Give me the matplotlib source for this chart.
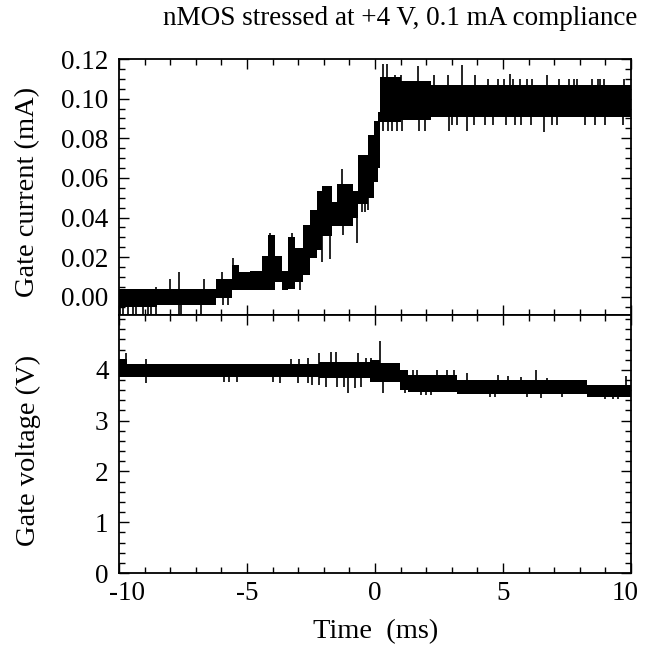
import numpy as np
import matplotlib
matplotlib.use("Agg")
import matplotlib.pyplot as plt
import matplotlib.transforms as mtransforms
from matplotlib.ticker import MultipleLocator, FixedLocator, FormatStrFormatter

# ---- Gate current trace (mA): stepwise envelope of the noisy record ----
cur_t = [-10.0, -8.5, -6.2, -5.6, -5.3, -4.9, -4.43, -4.17, -3.91, -3.65, -3.39,
         -3.13, -2.80, -2.54, -2.28, -2.08, -1.69, -1.50, -0.85, -0.65, -0.26,
         -0.05, 0.10, 0.20, 1.0, 2.2, 10.0]
cur_lo = [-0.0050, -0.0040, -0.0005, 0.0035, 0.0035, 0.0032, 0.0032, 0.0032, 0.0077,
          0.0032, 0.0040, 0.0077, 0.0110, 0.0197, 0.0238, 0.0305, 0.0356, 0.0356,
          0.0400, 0.0466, 0.0500, 0.0580, 0.0650, 0.0880, 0.0890, 0.0905, 0.0905]
cur_hi = [0.0040, 0.0040, 0.0090, 0.0160, 0.0123, 0.0128, 0.0204, 0.0310, 0.0204,
          0.0128, 0.0300, 0.0248, 0.0364, 0.0440, 0.0533, 0.0558, 0.0480, 0.0567,
          0.0533, 0.0718, 0.0815, 0.0887, 0.0930, 0.1110, 0.1090, 0.1070, 0.1070]

# isolated excursions of the current record: (time ms, value mA)
cur_spike_t = [-9.98, -9.85, -9.66, -9.45, -9.34, -9.08, -8.88, -8.75, -8.56, -7.65,
               -7.58, -6.80, -8.56, -7.99, -7.64, -6.66, -5.99, -5.56, -5.95, -5.75,
               -4.10, -3.25, -2.93, -2.08, -1.76, -1.30, -1.24, -0.72, -0.51, -0.38,
               -0.27,
               0.32, 0.46, 1.69, 3.39, 0.80, 1.00, 2.30, 2.85, 3.90, 5.28, 6.70,
               5.02, 5.41, 5.67, 5.93, 6.13, 7.17, 7.56, 7.76, 8.47, 8.73, 8.93,
               9.72, 7.90, 8.80, 4.40, 4.80,
               0.33, 0.50, 0.66, 0.86, 1.05, 1.70, 1.95, 2.90, 3.60, 6.62,
               3.00, 3.20, 3.85, 4.30, 4.60, 5.10, 5.45, 5.72, 6.10, 6.90, 7.10,
               8.20, 8.60, 9.00, 9.70]
cur_spike_v = [-0.0095, -0.0095, -0.0095, -0.0095, -0.0095, -0.0095, -0.0095, -0.0095,
               -0.0095, -0.0095, -0.0095, -0.0095, 0.0050, 0.0090, 0.0123, 0.0090,
               0.0123, 0.0197, -0.0040, -0.0040,
               0.0322, 0.0322, 0.0032, 0.0177, 0.0192, 0.0646, 0.0314, 0.0272, 0.0430,
               0.0430, 0.0440,
               0.1174, 0.1174, 0.1166, 0.1170, 0.1120, 0.1120, 0.1120, 0.1120, 0.1120,
               0.1123, 0.1120,
               0.1100, 0.1100, 0.1100, 0.1100, 0.1100, 0.1100, 0.1100, 0.1100, 0.1100,
               0.1100, 0.1100, 0.1100, 0.1100, 0.1100, 0.1100, 0.1100,
               0.0837, 0.0837, 0.0837, 0.0837, 0.0837, 0.0837, 0.0837, 0.0837, 0.0837,
               0.0830,
               0.0865, 0.0865, 0.0865, 0.0865, 0.0865, 0.0865, 0.0865, 0.0865, 0.0865,
               0.0865, 0.0865, 0.0865, 0.0865, 0.0865, 0.0865]

# ---- Gate voltage trace (V) ----
vol_t = [-10.0, -9.7, -2.2, -0.2, 0.2, 0.98, 1.3, 3.2, 8.3, 10.0]
vol_lo = [3.85, 3.86, 3.83, 3.77, 3.76, 3.60, 3.57, 3.52, 3.47, 3.47]
vol_hi = [4.22, 4.12, 4.16, 4.20, 4.14, 4.00, 3.90, 3.80, 3.70, 3.70]

vol_spike_t = [-9.73, -8.95, -3.27, -2.96, -2.62, -2.17, -1.71, -1.51, -0.67, -0.35,
               -0.16, 0.196, 1.50, 1.65, 2.43, 2.80, 3.10, 3.60, 4.80, 5.20, 5.70,
               6.30, 6.70, 9.80,
               -8.95, -5.90, -5.70, -5.40, -4.00, -3.70, -3.00, -2.60, -2.45, -2.20,
               -1.90, -1.50, -1.20, -1.05, -0.80, -0.55, 0.33, 1.18, 1.80, 2.00,
               2.20, 4.48, 4.70, 5.95, 6.47, 7.30, 8.60, 9.00, 9.30, 9.50]
vol_spike_v = [4.33, 4.21, 4.21, 4.21, 4.24, 4.33, 4.36, 4.36, 4.33, 4.24,
               4.24, 4.56, 4.00, 4.00, 4.00, 4.00, 4.00, 3.94, 3.90, 3.87, 3.85,
               4.00, 3.84, 3.87,
               3.74, 3.77, 3.77, 3.77, 3.77, 3.75, 3.74, 3.74, 3.70, 3.70,
               3.67, 3.67, 3.67, 3.55, 3.65, 3.67, 3.55, 3.54, 3.51, 3.51,
               3.51, 3.47, 3.47, 3.47, 3.44, 3.47, 3.47, 3.42, 3.42, 3.42]

time_ticks = [-10, -5, 0, 5, 10]
cur_ticks = [0.00, 0.02, 0.04, 0.06, 0.08, 0.10, 0.12]
vol_ticks = [0, 1, 2, 3, 4]

plt.rcParams['font.family'] = ['Liberation Serif', 'DejaVu Serif']
plt.rcParams['axes.unicode_minus'] = False
FS = 20.5
TS = 19.5

fig = plt.figure(figsize=(6.46, 6.5), dpi=100)
ax1 = fig.add_axes([0.1842, 0.51538, 0.79257, 0.39385])
ax2 = fig.add_axes([0.1842, 0.11846, 0.79257, 0.39692])


def draw_trace(ax, t, lo, hi, sp_t, sp_v):
    t = np.asarray(t, float)
    lo = np.asarray(lo, float)
    hi = np.asarray(hi, float)
    ax.fill_between(t, lo, hi, step='post', color='black', linewidth=0)
    idx = np.clip(np.searchsorted(t, sp_t, side='right') - 1, 0, len(t) - 1)
    base = 0.5 * (lo[idx] + hi[idx])
    ax.vlines(sp_t, base, sp_v, color='black', linewidth=1.2)


draw_trace(ax1, cur_t, cur_lo, cur_hi, cur_spike_t, cur_spike_v)
draw_trace(ax2, vol_t, vol_lo, vol_hi, vol_spike_t, vol_spike_v)

for ax in (ax1, ax2):
    ax.set_xlim(-10, 10)
    ax.xaxis.set_major_locator(FixedLocator(time_ticks))
    ax.xaxis.set_minor_locator(MultipleLocator(1))
    ax.tick_params(which='both', direction='in', top=True, right=True,
                   width=1.0, labelsize=TS, pad=7.5)
    ax.tick_params(which='major', length=7.5)
    ax.tick_params(which='minor', length=4.3)
    for s in ax.spines.values():
        s.set_linewidth(1.3)

ax1.set_ylim(-0.0092, 0.12)
ax1.yaxis.set_major_locator(FixedLocator(cur_ticks))
ax1.yaxis.set_major_formatter(FormatStrFormatter('%.2f'))
ax1.yaxis.set_minor_locator(MultipleLocator(0.005))
ax1.tick_params(labelbottom=False)

ax2.set_ylim(0, 5.08)
ax2.yaxis.set_major_locator(FixedLocator(vol_ticks))
ax2.yaxis.set_minor_locator(MultipleLocator(0.2))
ax2.tick_params(axis='x', pad=6)

# nudge the end labels of the time axis inward so they clear the frame corners
fig.canvas.draw()
xlabels = ax2.get_xticklabels()
shift_first = mtransforms.ScaledTranslation(8 / 100, 0, fig.dpi_scale_trans)
shift_last = mtransforms.ScaledTranslation(-6 / 100, 0, fig.dpi_scale_trans)
xlabels[0].set_transform(xlabels[0].get_transform() + shift_first)
xlabels[-1].set_transform(xlabels[-1].get_transform() + shift_last)

fig.text(0.619, 0.972, 'nMOS stressed at +4 V, 0.1 mA compliance',
         ha='center', va='center', fontsize=19.5)
fig.text(0.0433, 0.7046, 'Gate current (mA)', rotation=90,
         ha='center', va='center', fontsize=FS)
fig.text(0.0433, 0.3077, 'Gate voltage (V)', rotation=90,
         ha='center', va='center', fontsize=FS)
fig.text(0.582, 0.0277, 'Time  (ms)', ha='center', va='center', fontsize=FS)

fig.savefig('out.png', dpi=100)
